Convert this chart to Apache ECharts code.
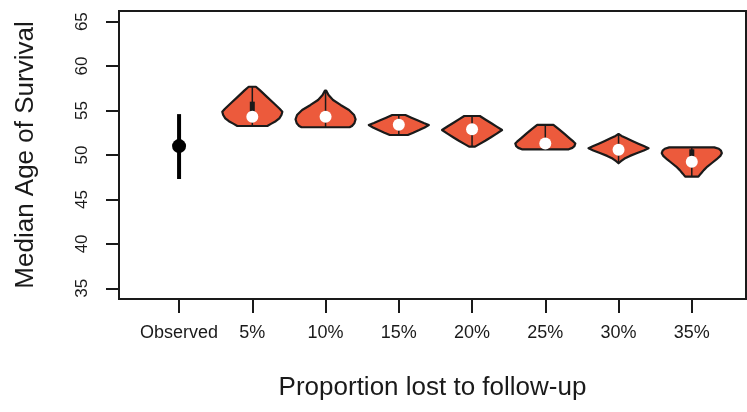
<!DOCTYPE html>
<html>
<head>
<meta charset="utf-8">
<script src="https://cdn.jsdelivr.net/npm/echarts@6/dist/echarts.min.js"></script>
<style>
  html, body { margin: 0; padding: 0; background: #ffffff; }
  #chart { width: 747px; height: 412px; }
</style>
</head>
<body>
<div id="chart"></div>
<script>
// Groups along the x axis (position 1 = observed estimate, 2..8 = simulated loss levels)
const categories = ['Observed', '5%', '10%', '15%', '20%', '25%', '30%', '35%'];
const yTicks = [35, 40, 45, 50, 55, 60, 65];

// Observed median age of survival with its interval
const observedMedian = [51.0];
const observedLow = [47.3];
const observedHigh = [54.6];

// Simulated distributions: median, quartiles and whisker ends per loss level
const medians = [54.3, 54.3, 53.4, 52.9, 51.3, 50.6, 49.25];
const q1 = [54.1, 54.1, 53.25, 52.7, 51.15, 50.45, 49.3];
const q3 = [56.0, 54.5, 53.55, 53.1, 51.45, 50.75, 50.64];
const whiskerLow = [53.26, 53.12, 52.25, 50.94, 50.64, 49.07, 47.56];
const whiskerHigh = [57.68, 57.24, 54.5, 54.39, 53.38, 52.36, 50.86];

// Density outlines: [age, relative density] from top to bottom
const density5 = [[57.68, 0.12], [57.3, 0.25], [56.6, 0.47], [55.9, 0.69], [55.2, 0.91], [54.87, 1.0], [54.5, 0.97], [54.13, 0.9], [53.8, 0.78], [53.5, 0.62], [53.26, 0.5]];
const density10 = [[57.24, 0.02], [56.75, 0.1], [56.19, 0.25], [55.63, 0.5], [55.06, 0.78], [54.5, 0.95], [54.02, 1.0], [53.57, 0.96], [53.26, 0.88], [53.12, 0.8]];
const density15 = [[54.5, 0.22], [54.2, 0.42], [53.9, 0.62], [53.6, 0.83], [53.38, 1.0], [53.1, 0.86], [52.8, 0.68], [52.5, 0.48], [52.25, 0.3]];
const density20 = [[54.39, 0.26], [54.0, 0.44], [53.6, 0.63], [53.2, 0.82], [52.81, 1.0], [52.4, 0.82], [52.0, 0.63], [51.6, 0.44], [51.2, 0.23], [50.94, 0.1]];
const density25 = [[53.38, 0.27], [52.9, 0.45], [52.4, 0.63], [51.9, 0.8], [51.5, 0.94], [51.3, 1.0], [51.0, 0.97], [50.8, 0.9], [50.64, 0.78]];
const density30 = [[52.36, 0.0], [52.15, 0.1], [51.9, 0.25], [51.6, 0.44], [51.3, 0.64], [51.0, 0.84], [50.75, 1.0], [50.5, 0.84], [50.2, 0.6], [49.9, 0.38], [49.6, 0.2], [49.3, 0.08], [49.07, 0.0]];
const density35 = [[50.86, 0.75], [50.7, 0.9], [50.5, 0.97], [50.2, 1.0], [49.9, 0.95], [49.5, 0.82], [49.1, 0.67], [48.7, 0.52], [48.3, 0.4], [47.9, 0.3], [47.56, 0.22]];

const densities = [density5, density10, density15, density20, density25, density30, density35];

const FONT = '"Liberation Sans", Arial, Helvetica, sans-serif';
const INK = '#1a1a1a';
const VIOLIN_FILL = '#EC5A3C';
const HALF_WIDTH = 0.41; // widest half-width of a violin, in x-axis units

function renderViolin(params, api) {
  const k = params.dataIndex;
  const x = api.value(0);
  const prof = densities[k];
  const leftSide = prof.map(([v, w]) => api.coord([x - w * HALF_WIDTH, v]));
  const rightSide = prof.slice().reverse().map(([v, w]) => api.coord([x + w * HALF_WIDTH, v]));
  const top = api.coord([x, whiskerHigh[k]]);
  const bottom = api.coord([x, whiskerLow[k]]);
  const boxTop = api.coord([x, q3[k]]);
  const boxBottom = api.coord([x, q1[k]]);
  const mid = api.coord([x, medians[k]]);
  return {
    type: 'group',
    children: [
      {
        type: 'polygon',
        shape: { points: leftSide.concat(rightSide) },
        style: { fill: VIOLIN_FILL, stroke: INK, lineWidth: 2.2, lineJoin: 'round' }
      },
      {
        type: 'line',
        shape: { x1: top[0], y1: top[1], x2: bottom[0], y2: bottom[1] },
        style: { stroke: INK, lineWidth: 1.5 }
      },
      {
        type: 'line',
        shape: { x1: boxTop[0], y1: boxTop[1], x2: boxBottom[0], y2: boxBottom[1] },
        style: { stroke: INK, lineWidth: 5 }
      },
      {
        type: 'circle',
        shape: { cx: mid[0], cy: mid[1], r: 6 },
        style: { fill: '#ffffff' }
      }
    ]
  };
}

function renderObserved(params, api) {
  const x = api.value(0);
  const hi = api.coord([x, observedHigh[0]]);
  const lo = api.coord([x, observedLow[0]]);
  const mid = api.coord([x, observedMedian[0]]);
  return {
    type: 'group',
    children: [
      {
        type: 'line',
        shape: { x1: hi[0], y1: hi[1], x2: lo[0], y2: lo[1] },
        style: { stroke: '#000000', lineWidth: 4 }
      },
      {
        type: 'circle',
        shape: { cx: mid[0], cy: mid[1], r: 7 },
        style: { fill: '#000000' }
      }
    ]
  };
}

const chart = echarts.init(document.getElementById('chart'), null, { renderer: 'canvas' });

chart.setOption({
  animation: false,
  backgroundColor: '#ffffff',
  grid: {
    left: 119, top: 11, width: 627, height: 288,
    show: true, borderColor: INK, borderWidth: 2, backgroundColor: 'transparent'
  },
  xAxis: {
    type: 'value',
    min: 0.18,
    max: 8.74,
    name: 'Proportion lost to follow-up',
    nameLocation: 'middle',
    nameGap: 76,
    nameTextStyle: { fontFamily: FONT, fontSize: 26, color: INK },
    axisLine: { show: false },
    splitLine: { show: false },
    axisTick: {
      show: true, length: 14,
      customValues: categories.map((c, i) => i + 1),
      lineStyle: { color: INK, width: 2 }
    },
    axisLabel: {
      customValues: categories.map((c, i) => i + 1),
      formatter: v => categories[Math.round(v) - 1] || '',
      margin: 25,
      fontFamily: FONT, fontSize: 18, color: INK
    }
  },
  yAxis: {
    type: 'value',
    min: 33.8,
    max: 66.2,
    name: 'Median Age of Survival',
    nameLocation: 'middle',
    nameRotate: 90,
    nameGap: 80,
    nameTextStyle: { fontFamily: FONT, fontSize: 26, color: INK },
    axisLine: { show: false },
    splitLine: { show: false },
    axisTick: {
      show: true, length: 13,
      customValues: yTicks,
      lineStyle: { color: INK, width: 2 }
    },
    axisLabel: {
      customValues: yTicks,
      rotate: 90,
      margin: 28,
      fontFamily: FONT, fontSize: 17, color: INK
    }
  },
  series: [
    {
      type: 'custom',
      name: 'Observed',
      renderItem: renderObserved,
      data: [[1, observedMedian[0]]],
      z: 3
    },
    {
      type: 'custom',
      name: 'Simulated',
      renderItem: renderViolin,
      data: medians.map((m, k) => [k + 2, m]),
      z: 3
    }
  ]
});
</script>
</body>
</html>
